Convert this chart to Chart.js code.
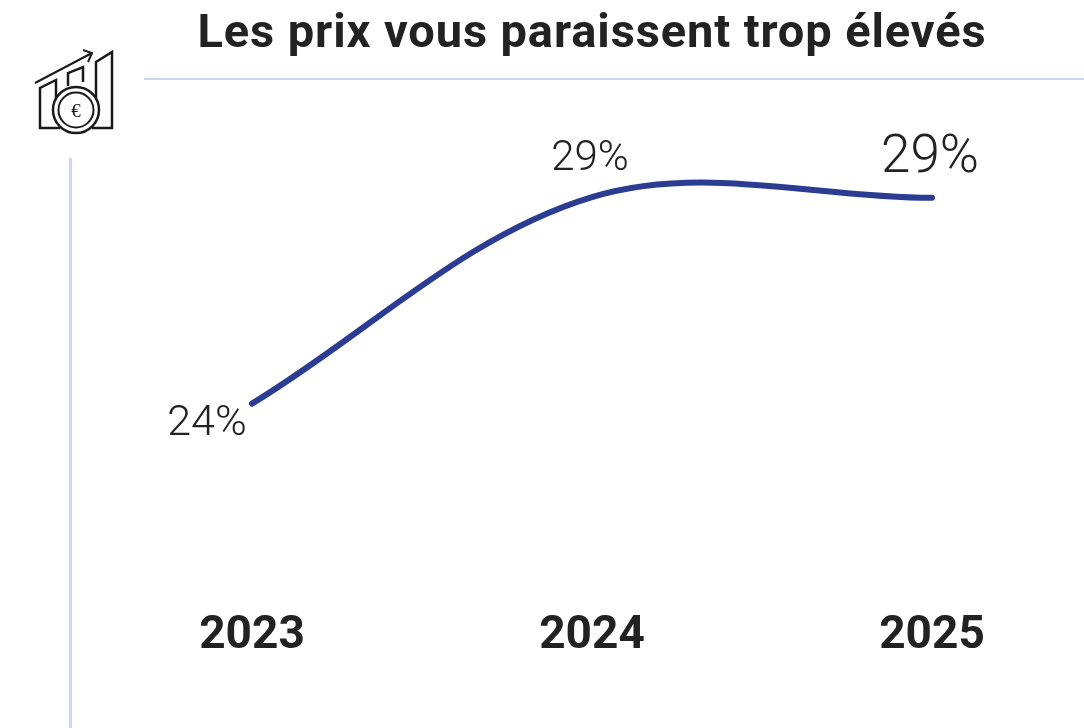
<!DOCTYPE html>
<html lang="fr"><head><meta charset="utf-8">
<style>
html,body{margin:0;padding:0;background:#fff;width:1084px;height:728px;overflow:hidden}
#wrap{position:relative;width:1084px;height:728px}
canvas{position:absolute;left:0;top:0}
.rule{position:absolute;background:#cdd7f2}
svg{position:absolute;left:30px;top:46px}
</style>
<script src="https://cdn.jsdelivr.net/npm/chart.js@4"></script>
</head><body>
<div id="wrap">
<canvas id="c" width="1084" height="728"></canvas>
<div class="rule" style="left:144px;top:78px;width:940px;height:2px"></div>
<div class="rule" style="left:69px;top:158px;width:3px;height:570px"></div>
<svg width="90" height="90" viewBox="0 0 90 90" fill="none" stroke="#1a1a1a" stroke-width="2.500">
<path d="M30 82H10V42L26 34V72"/>
<path d="M38 40V27L53 21V36"/>
<path d="M62 82H82V6L66 16V70"/>
<path d="M5 37L62 7" stroke-width="2"/>
<path d="M53 4L62 7L58 16" stroke-width="2"/>
<circle cx="46" cy="64" r="23" fill="#fff"/>
<circle cx="46" cy="64" r="17.500" fill="#fff" stroke-width="2"/>
<text x="46" y="70.500" text-anchor="middle" font-family="Liberation Serif" font-size="19" fill="#1a1a1a" stroke="none">€</text>
</svg>
</div>
<script>
const titleText = "Les prix vous paraissent trop élevés";
const categories = ["2023", "2024", "2025"];
const values = [24, 29.02, 29];
const valueLabels = ["24%", "29%", "29%"];

const labelStyles = [
  {dx: -45, dy: 21, size: 43},
  {dx: -2, dy: -38, size: 42},
  {dx: -2, dy: -39, size: 53}
];

const textPlugin = {
  id: "chartTexts",
  afterDatasetsDraw(chart) {
    const ctx = chart.ctx, pts = chart.getDatasetMeta(0).data;
    ctx.save();
    ctx.fillStyle = "#222222";
    ctx.textAlign = "center";
    ctx.textBaseline = "middle";
    pts.forEach((p, i) => {
      const s = labelStyles[i];
      ctx.font = "300 " + s.size + "px Roboto";
      ctx.fillText(valueLabels[i], p.x + s.dx, p.y + s.dy);
    });
    ctx.font = "700 47px Roboto";
    ctx.letterSpacing = "0.900px";
    ctx.fillText(titleText, (chart.chartArea.left + chart.chartArea.right) / 2, 35);
    ctx.restore();
  }
};

new Chart(document.getElementById("c"), {
  type: "line",
  data: {labels: categories, datasets: [{
    data: values,
    borderColor: "#2a3d92",
    borderWidth: 6,
    borderCapStyle: "round",
    tension: 0.35,
    pointRadius: 0,
    fill: false,
    clip: false
  }]},
  plugins: [textPlugin],
  options: {
    responsive: false,
    animation: false,
    layout: {padding: {left: 252, right: 152, top: 60, bottom: 52}},
    plugins: {
      legend: {display: false},
      tooltip: {enabled: false}
    },
    scales: {
      x: {offset: false, grid: {display: false}, border: {display: false},
        ticks: {color: "#222222", padding: 12, maxRotation: 0, autoSkip: false,
          font: {family: "Roboto", size: 46, weight: "700"}}},
      y: {display: false, min: 19.5, max: 32.35}
    }
  }
});
</script>
</body></html>
